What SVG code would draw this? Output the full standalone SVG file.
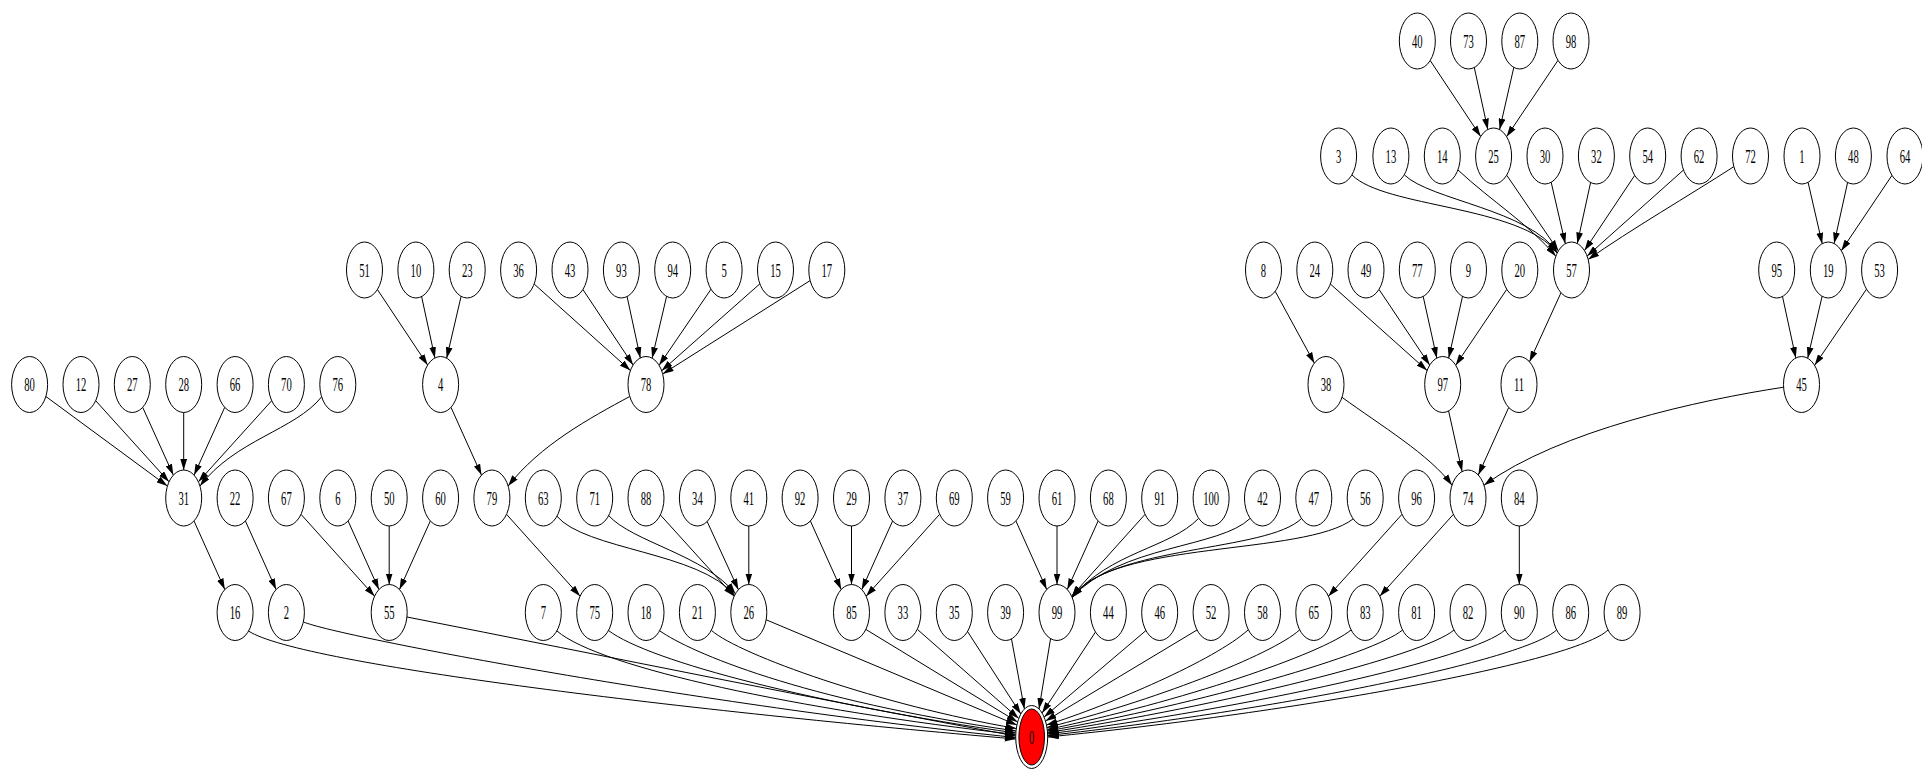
<svg xmlns="http://www.w3.org/2000/svg" width="1922" height="769" viewBox="0 0 1922 769">
<style>
.n ellipse{fill:#fff;stroke:#000;stroke-width:1}
.n text{font-family:"Liberation Serif","Times New Roman",serif;font-size:19px;text-anchor:middle;fill:#000}
.e path{fill:none;stroke:#000;stroke-width:1;marker-end:url(#a)}
</style>
<defs>
<marker id="a" markerUnits="userSpaceOnUse" markerWidth="11" markerHeight="7" refX="11" refY="3.4" orient="auto" viewBox="0 0 11 6.8"><path d="M0,0 L11,3.4 L0,6.8 z" fill="#000" stroke="none"/></marker>
</defs>
<rect width="1922" height="769" fill="#fff"/>
<g id="edges" class="e">
<path d="M45.9,396.5 L167.4,486"/>
<path d="M95.7,400.7 L169,481.8"/>
<path d="M142.7,407.4 L173.3,475.1"/>
<path d="M183.7,412.5 L183.7,470"/>
<path d="M224.7,407.4 L194.1,475.1"/>
<path d="M271.7,400.7 L198.4,481.8"/>
<path d="M321.5,397 C295,430 235,440 200,486"/>
<path d="M194,521 L224.8,589.5"/>
<path d="M245.4,521 L276.1,589.5"/>
<path d="M301,514.3 L374.6,596.2"/>
<path d="M348.1,521 L378.9,589.5"/>
<path d="M389.2,526 L389.2,584.5"/>
<path d="M430.3,521 L399.5,589.5"/>
<path d="M451,407.4 L481.5,475.1"/>
<path d="M629.7,396.5 C590,418 540,445 508.2,486"/>
<path d="M506.5,514.3 L580.1,596.2"/>
<path d="M534.2,284 L630.4,370.5"/>
<path d="M582.9,289.5 L633.1,365"/>
<path d="M627.1,296.6 L640.3,357.9"/>
<path d="M666.6,296.3 L652.1,358.2"/>
<path d="M711,289.2 L659.1,365.3"/>
<path d="M759.9,283.8 L661.7,370.7"/>
<path d="M810.1,280.6 L662.7,373.9"/>
<path d="M377.4,289.5 L427.6,365"/>
<path d="M421.6,296.6 L434.9,357.9"/>
<path d="M461.1,296.3 L446.7,358.2"/>
<path d="M556.7,516 C585,550 700,552 734.6,595.4"/>
<path d="M608.2,515.1 C632,542 705,555 735.4,593.8"/>
<path d="M659.7,514.2 L734.1,596.3"/>
<path d="M706.8,520.8 L738.4,589.7"/>
<path d="M748.8,526 L748.8,584.5"/>
<path d="M810.4,521 L841.2,589.5"/>
<path d="M851.5,526 L851.5,584.5"/>
<path d="M892.6,521 L861.8,589.5"/>
<path d="M939.6,514.3 L866.1,596.2"/>
<path d="M1015.9,521 L1046.7,589.5"/>
<path d="M1057,526 L1057,584.5"/>
<path d="M1098.1,521 L1067.3,589.5"/>
<path d="M1145.1,514.3 L1071.6,596.2"/>
<path d="M1198.5,518.5 C1170,548 1110,552 1072.1,597.4"/>
<path d="M1250,518.5 C1220,548 1120,545 1072.1,597.4"/>
<path d="M1301.5,518.5 C1268,552 1110,545 1072.1,597.4"/>
<path d="M1353,519 C1305,556 1110,540 1072.1,597.4"/>
<path d="M1402,514.3 L1328.4,596.2"/>
<path d="M1453.4,514.3 L1379.8,596.2"/>
<path d="M1519.3,526 L1519.3,584.5"/>
<path d="M1342,397.3 C1380,425 1430,455 1452,485.2"/>
<path d="M1448.6,411 L1462.1,471.5"/>
<path d="M1508.7,407.5 L1478.3,475"/>
<path d="M1783.6,387.2 C1700,400 1560,430 1484,485.2"/>
<path d="M1330.4,284 L1427.1,370.5"/>
<path d="M1379,289.4 L1429.7,365.1"/>
<path d="M1423.2,296.5 L1436.8,358"/>
<path d="M1462.5,296.4 L1448.7,358.1"/>
<path d="M1506.8,289.3 L1455.7,365.2"/>
<path d="M1275.2,291.3 L1314.4,363.2"/>
<path d="M1561,292.7 L1529.5,361.8"/>
<path d="M1352,175 C1385,208 1520,205 1557.3,252.9"/>
<path d="M1404.5,175 C1430,200 1530,210 1557.3,252.9"/>
<path d="M1458,170 C1490,200 1530,225 1555.8,256.2"/>
<path d="M1506.7,175.2 L1558.4,250.9"/>
<path d="M1551.2,182.3 L1565.3,243.7"/>
<path d="M1590.6,182.5 L1577.3,243.5"/>
<path d="M1634.7,175.4 L1584.5,250.6"/>
<path d="M1683.5,170 L1587.1,256.1"/>
<path d="M1733.9,166.6 C1690,195 1630,230 1588.2,259.4"/>
<path d="M1430.2,60.5 L1480.7,136.5"/>
<path d="M1474.3,67.5 L1487.8,129.5"/>
<path d="M1513.8,67.4 L1499.6,129.6"/>
<path d="M1558,60.3 L1506.6,136.7"/>
<path d="M1808.1,182.4 L1822.2,243.7"/>
<path d="M1847.6,182.5 L1834.1,243.5"/>
<path d="M1892,175.3 L1841.3,250.7"/>
<path d="M1782.5,296.5 L1795.8,358"/>
<path d="M1822.1,296.3 L1807.7,358.2"/>
<path d="M1866.5,289.2 L1814.6,365.3"/>
<path d="M248.5,631 C300,665 700,712 1015.7,739"/>
<path d="M303.5,622 C340,637 700,705 1015.7,737.5"/>
<path d="M407,617 C610,657 820,700 1015.7,736"/>
<path d="M557,631 C600,668 800,710 1015.7,734.5"/>
<path d="M608.5,630.5 C650,662 820,705 1015.8,733"/>
<path d="M660,631 C690,652 800,700 1016,731"/>
<path d="M711.5,630.5 C740,655 880,705 1016.3,728.5"/>
<path d="M766.2,619.8 L1016.9,725"/>
<path d="M866,629.5 L1017.6,722"/>
<path d="M917.5,629.5 L1018.8,718.5"/>
<path d="M967.5,631.5 L1020.8,714"/>
<path d="M1011.5,639 L1024.4,709"/>
<path d="M1050.5,639 L1039,709"/>
<path d="M1095.5,632 L1042.1,713"/>
<path d="M1146,630.5 L1044.1,717"/>
<path d="M1197,630 L1045.5,721"/>
<path d="M1248,630 C1215,660 1110,705 1046.5,725"/>
<path d="M1299.5,630 C1272,655 1150,702 1047,727.5"/>
<path d="M1351,630 C1322,654 1180,702 1047.2,729.5"/>
<path d="M1402.5,630 C1374,654 1200,704 1047.4,731"/>
<path d="M1454,630 C1424,656 1220,706 1047.6,732.5"/>
<path d="M1505,630 C1475,658 1250,708 1047.6,734"/>
<path d="M1556.5,630 C1525,660 1280,710 1047.7,735.5"/>
<path d="M1608,630 C1575,662 1300,712 1047.7,737"/>
</g>
<g id="nodes">
<g id="n40" class="n" transform="translate(1417.3,41)"><ellipse rx="18" ry="28"/><text y="6.5" transform="scale(0.56,1)">40</text></g>
<g id="n73" class="n" transform="translate(1468.5,41)"><ellipse rx="18" ry="28"/><text y="6.5" transform="scale(0.56,1)">73</text></g>
<g id="n87" class="n" transform="translate(1519.8,41)"><ellipse rx="18" ry="28"/><text y="6.5" transform="scale(0.56,1)">87</text></g>
<g id="n98" class="n" transform="translate(1571,41)"><ellipse rx="18" ry="28"/><text y="6.5" transform="scale(0.56,1)">98</text></g>
<g id="n3" class="n" transform="translate(1338.6,156)"><ellipse rx="18" ry="28"/><text y="6.5" transform="scale(0.56,1)">3</text></g>
<g id="n13" class="n" transform="translate(1390.9,156)"><ellipse rx="18" ry="28"/><text y="6.5" transform="scale(0.56,1)">13</text></g>
<g id="n14" class="n" transform="translate(1442.3,156)"><ellipse rx="18" ry="28"/><text y="6.5" transform="scale(0.56,1)">14</text></g>
<g id="n25" class="n" transform="translate(1493.6,156)"><ellipse rx="18" ry="28"/><text y="6.5" transform="scale(0.56,1)">25</text></g>
<g id="n30" class="n" transform="translate(1545,156)"><ellipse rx="18" ry="28"/><text y="6.5" transform="scale(0.56,1)">30</text></g>
<g id="n32" class="n" transform="translate(1596.4,156)"><ellipse rx="18" ry="28"/><text y="6.5" transform="scale(0.56,1)">32</text></g>
<g id="n54" class="n" transform="translate(1647.7,156)"><ellipse rx="18" ry="28"/><text y="6.5" transform="scale(0.56,1)">54</text></g>
<g id="n62" class="n" transform="translate(1699.1,156)"><ellipse rx="18" ry="28"/><text y="6.5" transform="scale(0.56,1)">62</text></g>
<g id="n72" class="n" transform="translate(1750.5,156)"><ellipse rx="18" ry="28"/><text y="6.5" transform="scale(0.56,1)">72</text></g>
<g id="n1" class="n" transform="translate(1802,156)"><ellipse rx="18" ry="28"/><text y="6.5" transform="scale(0.56,1)">1</text></g>
<g id="n48" class="n" transform="translate(1853.4,156)"><ellipse rx="18" ry="28"/><text y="6.5" transform="scale(0.56,1)">48</text></g>
<g id="n64" class="n" transform="translate(1905,156)"><ellipse rx="18" ry="28"/><text y="6.5" transform="scale(0.56,1)">64</text></g>
<g id="n51" class="n" transform="translate(364.5,270)"><ellipse rx="18" ry="28"/><text y="6.5" transform="scale(0.56,1)">51</text></g>
<g id="n10" class="n" transform="translate(415.9,270)"><ellipse rx="18" ry="28"/><text y="6.5" transform="scale(0.56,1)">10</text></g>
<g id="n23" class="n" transform="translate(467.2,270)"><ellipse rx="18" ry="28"/><text y="6.5" transform="scale(0.56,1)">23</text></g>
<g id="n36" class="n" transform="translate(518.6,270)"><ellipse rx="18" ry="28"/><text y="6.5" transform="scale(0.56,1)">36</text></g>
<g id="n43" class="n" transform="translate(570,270)"><ellipse rx="18" ry="28"/><text y="6.5" transform="scale(0.56,1)">43</text></g>
<g id="n93" class="n" transform="translate(621.4,270)"><ellipse rx="18" ry="28"/><text y="6.5" transform="scale(0.56,1)">93</text></g>
<g id="n94" class="n" transform="translate(672.7,270)"><ellipse rx="18" ry="28"/><text y="6.5" transform="scale(0.56,1)">94</text></g>
<g id="n5" class="n" transform="translate(724.1,270)"><ellipse rx="18" ry="28"/><text y="6.5" transform="scale(0.56,1)">5</text></g>
<g id="n15" class="n" transform="translate(775.5,270)"><ellipse rx="18" ry="28"/><text y="6.5" transform="scale(0.56,1)">15</text></g>
<g id="n17" class="n" transform="translate(826.8,270)"><ellipse rx="18" ry="28"/><text y="6.5" transform="scale(0.56,1)">17</text></g>
<g id="n8" class="n" transform="translate(1263.5,270)"><ellipse rx="18" ry="28"/><text y="6.5" transform="scale(0.56,1)">8</text></g>
<g id="n24" class="n" transform="translate(1314.8,270)"><ellipse rx="18" ry="28"/><text y="6.5" transform="scale(0.56,1)">24</text></g>
<g id="n49" class="n" transform="translate(1366,270)"><ellipse rx="18" ry="28"/><text y="6.5" transform="scale(0.56,1)">49</text></g>
<g id="n77" class="n" transform="translate(1417.3,270)"><ellipse rx="18" ry="28"/><text y="6.5" transform="scale(0.56,1)">77</text></g>
<g id="n9" class="n" transform="translate(1468.5,270)"><ellipse rx="18" ry="28"/><text y="6.5" transform="scale(0.56,1)">9</text></g>
<g id="n20" class="n" transform="translate(1519.8,270)"><ellipse rx="18" ry="28"/><text y="6.5" transform="scale(0.56,1)">20</text></g>
<g id="n57" class="n" transform="translate(1571.5,270)"><ellipse rx="18" ry="28"/><text y="6.5" transform="scale(0.56,1)">57</text></g>
<g id="n95" class="n" transform="translate(1776.7,270)"><ellipse rx="18" ry="28"/><text y="6.5" transform="scale(0.56,1)">95</text></g>
<g id="n19" class="n" transform="translate(1828.3,270)"><ellipse rx="18" ry="28"/><text y="6.5" transform="scale(0.56,1)">19</text></g>
<g id="n53" class="n" transform="translate(1879.6,270)"><ellipse rx="18" ry="28"/><text y="6.5" transform="scale(0.56,1)">53</text></g>
<g id="n80" class="n" transform="translate(29.6,384.5)"><ellipse rx="18" ry="28"/><text y="6.5" transform="scale(0.56,1)">80</text></g>
<g id="n12" class="n" transform="translate(81,384.5)"><ellipse rx="18" ry="28"/><text y="6.5" transform="scale(0.56,1)">12</text></g>
<g id="n27" class="n" transform="translate(132.3,384.5)"><ellipse rx="18" ry="28"/><text y="6.5" transform="scale(0.56,1)">27</text></g>
<g id="n28" class="n" transform="translate(183.7,384.5)"><ellipse rx="18" ry="28"/><text y="6.5" transform="scale(0.56,1)">28</text></g>
<g id="n66" class="n" transform="translate(235.1,384.5)"><ellipse rx="18" ry="28"/><text y="6.5" transform="scale(0.56,1)">66</text></g>
<g id="n70" class="n" transform="translate(286.4,384.5)"><ellipse rx="18" ry="28"/><text y="6.5" transform="scale(0.56,1)">70</text></g>
<g id="n76" class="n" transform="translate(337.8,384.5)"><ellipse rx="18" ry="28"/><text y="6.5" transform="scale(0.56,1)">76</text></g>
<g id="n4" class="n" transform="translate(440.6,384.5)"><ellipse rx="18" ry="28"/><text y="6.5" transform="scale(0.56,1)">4</text></g>
<g id="n78" class="n" transform="translate(646,384.5)"><ellipse rx="18" ry="28"/><text y="6.5" transform="scale(0.56,1)">78</text></g>
<g id="n38" class="n" transform="translate(1326,384.5)"><ellipse rx="18" ry="28"/><text y="6.5" transform="scale(0.56,1)">38</text></g>
<g id="n97" class="n" transform="translate(1442.7,384.5)"><ellipse rx="18" ry="28"/><text y="6.5" transform="scale(0.56,1)">97</text></g>
<g id="n11" class="n" transform="translate(1519,384.5)"><ellipse rx="18" ry="28"/><text y="6.5" transform="scale(0.56,1)">11</text></g>
<g id="n45" class="n" transform="translate(1801.5,384.5)"><ellipse rx="18" ry="28"/><text y="6.5" transform="scale(0.56,1)">45</text></g>
<g id="n31" class="n" transform="translate(183.7,498)"><ellipse rx="18" ry="28"/><text y="6.5" transform="scale(0.56,1)">31</text></g>
<g id="n22" class="n" transform="translate(235.1,498)"><ellipse rx="18" ry="28"/><text y="6.5" transform="scale(0.56,1)">22</text></g>
<g id="n67" class="n" transform="translate(286.4,498)"><ellipse rx="18" ry="28"/><text y="6.5" transform="scale(0.56,1)">67</text></g>
<g id="n6" class="n" transform="translate(337.8,498)"><ellipse rx="18" ry="28"/><text y="6.5" transform="scale(0.56,1)">6</text></g>
<g id="n50" class="n" transform="translate(389.2,498)"><ellipse rx="18" ry="28"/><text y="6.5" transform="scale(0.56,1)">50</text></g>
<g id="n60" class="n" transform="translate(440.6,498)"><ellipse rx="18" ry="28"/><text y="6.5" transform="scale(0.56,1)">60</text></g>
<g id="n79" class="n" transform="translate(491.9,498)"><ellipse rx="18" ry="28"/><text y="6.5" transform="scale(0.56,1)">79</text></g>
<g id="n63" class="n" transform="translate(543.3,498)"><ellipse rx="18" ry="28"/><text y="6.5" transform="scale(0.56,1)">63</text></g>
<g id="n71" class="n" transform="translate(594.7,498)"><ellipse rx="18" ry="28"/><text y="6.5" transform="scale(0.56,1)">71</text></g>
<g id="n88" class="n" transform="translate(646,498)"><ellipse rx="18" ry="28"/><text y="6.5" transform="scale(0.56,1)">88</text></g>
<g id="n34" class="n" transform="translate(697.4,498)"><ellipse rx="18" ry="28"/><text y="6.5" transform="scale(0.56,1)">34</text></g>
<g id="n41" class="n" transform="translate(748.8,498)"><ellipse rx="18" ry="28"/><text y="6.5" transform="scale(0.56,1)">41</text></g>
<g id="n92" class="n" transform="translate(800.1,498)"><ellipse rx="18" ry="28"/><text y="6.5" transform="scale(0.56,1)">92</text></g>
<g id="n29" class="n" transform="translate(851.5,498)"><ellipse rx="18" ry="28"/><text y="6.5" transform="scale(0.56,1)">29</text></g>
<g id="n37" class="n" transform="translate(902.9,498)"><ellipse rx="18" ry="28"/><text y="6.5" transform="scale(0.56,1)">37</text></g>
<g id="n69" class="n" transform="translate(954.3,498)"><ellipse rx="18" ry="28"/><text y="6.5" transform="scale(0.56,1)">69</text></g>
<g id="n59" class="n" transform="translate(1005.6,498)"><ellipse rx="18" ry="28"/><text y="6.5" transform="scale(0.56,1)">59</text></g>
<g id="n61" class="n" transform="translate(1057,498)"><ellipse rx="18" ry="28"/><text y="6.5" transform="scale(0.56,1)">61</text></g>
<g id="n68" class="n" transform="translate(1108.4,498)"><ellipse rx="18" ry="28"/><text y="6.5" transform="scale(0.56,1)">68</text></g>
<g id="n91" class="n" transform="translate(1159.7,498)"><ellipse rx="18" ry="28"/><text y="6.5" transform="scale(0.56,1)">91</text></g>
<g id="n100" class="n" transform="translate(1211.1,498)"><ellipse rx="18" ry="28"/><text y="6.5" transform="scale(0.56,1)">100</text></g>
<g id="n42" class="n" transform="translate(1262.5,498)"><ellipse rx="18" ry="28"/><text y="6.5" transform="scale(0.56,1)">42</text></g>
<g id="n47" class="n" transform="translate(1313.8,498)"><ellipse rx="18" ry="28"/><text y="6.5" transform="scale(0.56,1)">47</text></g>
<g id="n56" class="n" transform="translate(1365.2,498)"><ellipse rx="18" ry="28"/><text y="6.5" transform="scale(0.56,1)">56</text></g>
<g id="n96" class="n" transform="translate(1416.6,498)"><ellipse rx="18" ry="28"/><text y="6.5" transform="scale(0.56,1)">96</text></g>
<g id="n74" class="n" transform="translate(1468,498)"><ellipse rx="18" ry="28"/><text y="6.5" transform="scale(0.56,1)">74</text></g>
<g id="n84" class="n" transform="translate(1519.3,498)"><ellipse rx="18" ry="28"/><text y="6.5" transform="scale(0.56,1)">84</text></g>
<g id="n16" class="n" transform="translate(235.1,612.5)"><ellipse rx="18" ry="28"/><text y="6.5" transform="scale(0.56,1)">16</text></g>
<g id="n2" class="n" transform="translate(286.4,612.5)"><ellipse rx="18" ry="28"/><text y="6.5" transform="scale(0.56,1)">2</text></g>
<g id="n55" class="n" transform="translate(389.2,612.5)"><ellipse rx="18" ry="28"/><text y="6.5" transform="scale(0.56,1)">55</text></g>
<g id="n7" class="n" transform="translate(543.3,612.5)"><ellipse rx="18" ry="28"/><text y="6.5" transform="scale(0.56,1)">7</text></g>
<g id="n75" class="n" transform="translate(594.7,612.5)"><ellipse rx="18" ry="28"/><text y="6.5" transform="scale(0.56,1)">75</text></g>
<g id="n18" class="n" transform="translate(646,612.5)"><ellipse rx="18" ry="28"/><text y="6.5" transform="scale(0.56,1)">18</text></g>
<g id="n21" class="n" transform="translate(697.4,612.5)"><ellipse rx="18" ry="28"/><text y="6.5" transform="scale(0.56,1)">21</text></g>
<g id="n26" class="n" transform="translate(748.8,612.5)"><ellipse rx="18" ry="28"/><text y="6.5" transform="scale(0.56,1)">26</text></g>
<g id="n85" class="n" transform="translate(851.5,612.5)"><ellipse rx="18" ry="28"/><text y="6.5" transform="scale(0.56,1)">85</text></g>
<g id="n33" class="n" transform="translate(902.9,612.5)"><ellipse rx="18" ry="28"/><text y="6.5" transform="scale(0.56,1)">33</text></g>
<g id="n35" class="n" transform="translate(954.3,612.5)"><ellipse rx="18" ry="28"/><text y="6.5" transform="scale(0.56,1)">35</text></g>
<g id="n39" class="n" transform="translate(1005.6,612.5)"><ellipse rx="18" ry="28"/><text y="6.5" transform="scale(0.56,1)">39</text></g>
<g id="n99" class="n" transform="translate(1057,612.5)"><ellipse rx="18" ry="28"/><text y="6.5" transform="scale(0.56,1)">99</text></g>
<g id="n44" class="n" transform="translate(1108.4,612.5)"><ellipse rx="18" ry="28"/><text y="6.5" transform="scale(0.56,1)">44</text></g>
<g id="n46" class="n" transform="translate(1159.7,612.5)"><ellipse rx="18" ry="28"/><text y="6.5" transform="scale(0.56,1)">46</text></g>
<g id="n52" class="n" transform="translate(1211.1,612.5)"><ellipse rx="18" ry="28"/><text y="6.5" transform="scale(0.56,1)">52</text></g>
<g id="n58" class="n" transform="translate(1262.5,612.5)"><ellipse rx="18" ry="28"/><text y="6.5" transform="scale(0.56,1)">58</text></g>
<g id="n65" class="n" transform="translate(1313.8,612.5)"><ellipse rx="18" ry="28"/><text y="6.5" transform="scale(0.56,1)">65</text></g>
<g id="n83" class="n" transform="translate(1365.2,612.5)"><ellipse rx="18" ry="28"/><text y="6.5" transform="scale(0.56,1)">83</text></g>
<g id="n81" class="n" transform="translate(1416.6,612.5)"><ellipse rx="18" ry="28"/><text y="6.5" transform="scale(0.56,1)">81</text></g>
<g id="n82" class="n" transform="translate(1468,612.5)"><ellipse rx="18" ry="28"/><text y="6.5" transform="scale(0.56,1)">82</text></g>
<g id="n90" class="n" transform="translate(1519.3,612.5)"><ellipse rx="18" ry="28"/><text y="6.5" transform="scale(0.56,1)">90</text></g>
<g id="n86" class="n" transform="translate(1570.7,612.5)"><ellipse rx="18" ry="28"/><text y="6.5" transform="scale(0.56,1)">86</text></g>
<g id="n89" class="n" transform="translate(1622.1,612.5)"><ellipse rx="18" ry="28"/><text y="6.5" transform="scale(0.56,1)">89</text></g>
<g id="n0" class="n" transform="translate(1031.7,737)"><ellipse rx="16" ry="31.5"/><ellipse rx="12.8" ry="28" style="fill:#ff0000"/><text y="6.5" transform="scale(0.56,1)">0</text></g>
</g>
</svg>
